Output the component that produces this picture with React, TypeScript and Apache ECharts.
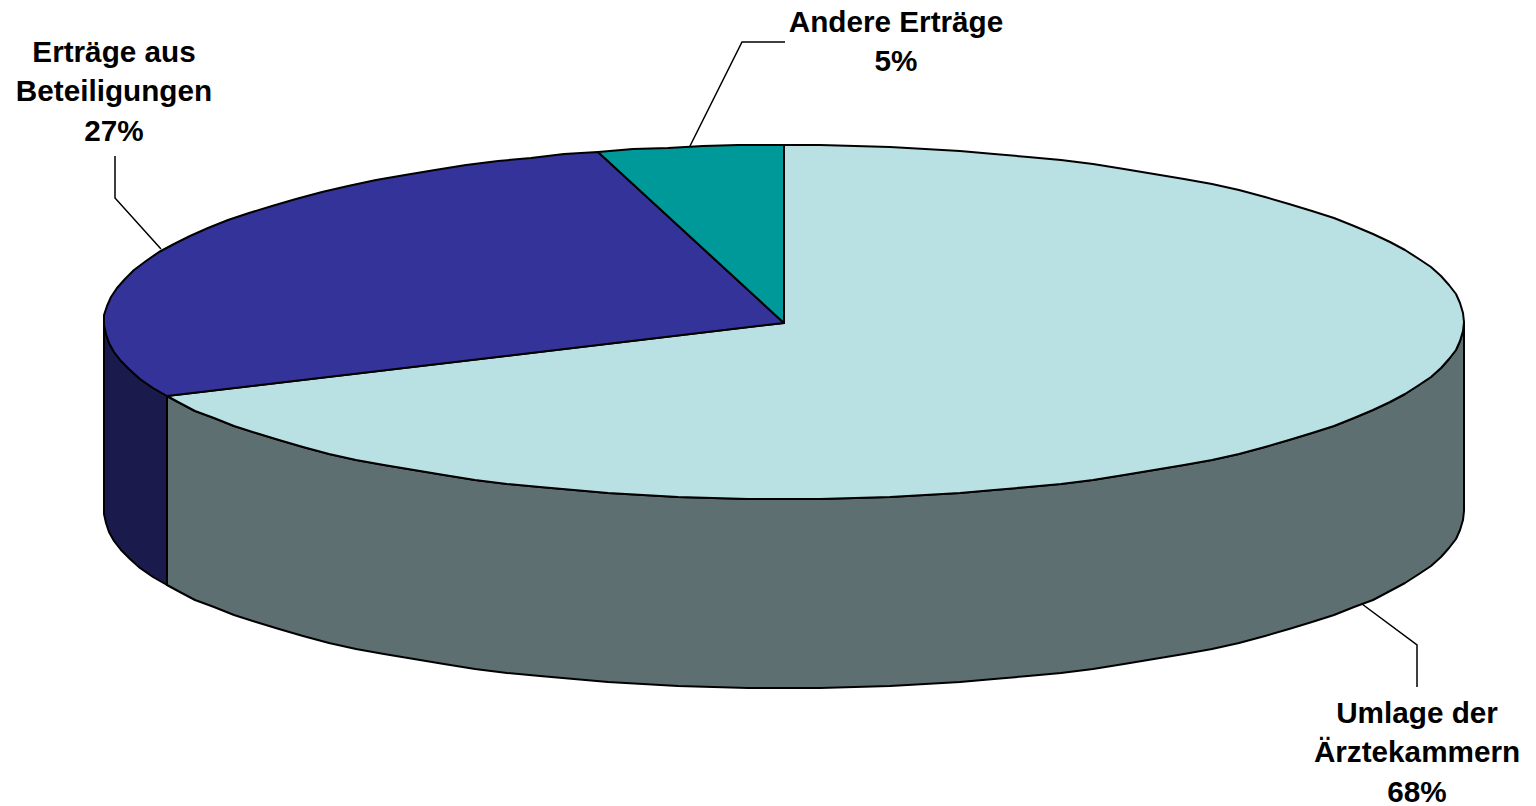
import React, { useEffect, useRef } from "react";
import * as echarts from "echarts";

const categories = ["Umlage der\nÄrztekammern", "Erträge aus\nBeteiligungen", "Andere Erträge"];
const values = [68.1, 27.5, 4.4];
const percentLabels = ["68%", "27%", "5%"];
const topColors = ["#B9E0E3", "#333399", "#009999"];
const sideColors = ["#5E6F71", "#1A1A4D", "#004D4D"];
const labelPositions = [[1417, 712], [114, 51], [896, 21]];
const leaders = [
  [[1362, 604], [1417, 645], [1417, 687]],
  [[161, 249], [115, 198], [115, 156]],
  [[690, 146], [742, 42], [785, 42]],
];

const CX = 784;
const CY = 322;
const RX = 680;
const RY = 177;
const DEPTH = 189;
const STEP = 3;
const LINE_GAP = 39.5;
const FONT = "Liberation Sans";

const total = values.reduce((a, b) => a + b, 0);

function pt(deg: number, dy = 0): number[] {
  const r = (deg * Math.PI) / 180;
  return [Math.round(CX + RX * Math.sin(r)), Math.round(CY - RY * Math.cos(r) + dy)];
}

function arc(from: number, to: number, dy = 0): number[][] {
  const out: number[][] = [];
  for (let a = from; a < to; a += STEP) out.push(pt(a, dy));
  out.push(pt(to, dy));
  return out;
}

function renderSlice(params: any, api: any) {
  const i = params.dataIndex;
  const before = values.slice(0, i).reduce((a, b) => a + b, 0);
  const start = (before / total) * 360;
  const end = start + (api.value(0) / total) * 360;
  const children: any[] = [];
  const s = Math.max(start, 90);
  const e = Math.min(end, 270);
  if (e > s) {
    children.push({
      type: "polygon",
      shape: { points: [...arc(s, e), ...arc(s, e, DEPTH).reverse()] },
      style: { fill: sideColors[i], stroke: "#000", lineWidth: 2, lineJoin: "round" },
    });
  }
  children.push({
    type: "polygon",
    shape: { points: [[CX, CY + 1], ...arc(start, end)] },
    style: { fill: topColors[i], stroke: "#000", lineWidth: 2, lineJoin: "round" },
  });
  return { type: "group", children };
}

export default function App() {
  const ref = useRef<HTMLDivElement>(null);
  useEffect(() => {
    const chart = echarts.init(ref.current!, null, { renderer: "svg" });
    const labelTexts = categories.flatMap((c, i) =>
      [...c.split("\n"), percentLabels[i]].map((line, k) => ({
        type: "text",
        x: labelPositions[i][0],
        y: labelPositions[i][1] + k * LINE_GAP,
        silent: true,
        style: {
          text: line,
          fill: "#000",
          font: `bold 29.7px "${FONT}", Arial, sans-serif`,
          align: "center",
          verticalAlign: "middle",
        },
      }))
    );
    chart.setOption({
      animation: false,
      backgroundColor: "#fff",
      series: [
        {
          type: "custom",
          coordinateSystem: "none",
          silent: true,
          renderItem: renderSlice,
          data: values.map((v) => [v]),
        },
      ],
      graphic: [
        ...leaders.map((points) => ({
          type: "polyline",
          shape: { points },
          style: { fill: "none", stroke: "#000", lineWidth: 1.5 },
          silent: true,
        })),
        ...labelTexts,
      ],
    });
    return () => chart.dispose();
  }, []);
  return <div ref={ref} style={{ position: "fixed", left: 0, top: 0, width: 1536, height: 806 }} />;
}
